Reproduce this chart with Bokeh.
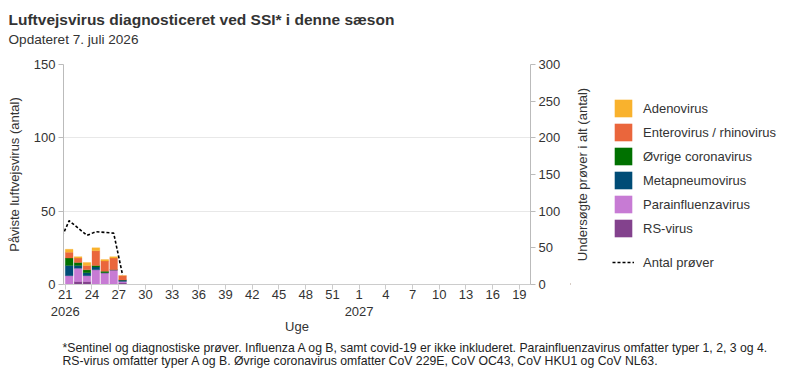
import math
from bokeh.plotting import figure
from bokeh.layouts import column, row
from bokeh.models import (ColumnDataSource, Range1d, LinearAxis, FixedTicker,
                          Legend, LegendItem, Label)
from bokeh.embed import file_html
from bokeh.resources import INLINE

# ---------------- data ----------------
title_text = "Luftvejsvirus diagnosticeret ved SSI* i denne sæson"
subtitle_text = "Opdateret 7. juli 2026"
left_axis_title = "Påviste luftvejsvirus (antal)"
right_axis_title = "Undersøgte prøver i alt (antal)"
x_axis_title = "Uge"
footnote_lines = [
    "*Sentinel og diagnostiske prøver. Influenza A og B, samt covid-19 er ikke inkluderet. Parainfluenzavirus omfatter typer 1, 2, 3 og 4.",
    "RS-virus omfatter typer A og B. Øvrige coronavirus omfatter CoV 229E, CoV OC43, CoV HKU1 og CoV NL63.",
]

weeks = [21, 22, 23, 24, 25, 26, 27]          # 2026
rs_virus = [0, 2, 2, 0, 0, 0, 1]
parainfluenza = [6, 9, 4, 10, 8, 10, 1]
metapneumo = [7, 2, 2, 2, 0, 0, 1]
corona = [5, 2, 2, 1, 1, 0, 0]
entero_rhino = [4, 3, 3, 10, 7, 8, 3]
adeno = [2, 1, 2, 2, 1, 1, 0]

series_names = ["RS-virus", "Parainfluenzavirus", "Metapneumovirus",
                "Øvrige coronavirus", "Enterovirus / rhinovirus", "Adenovirus"]
series_colors = ["#83428D", "#C77BD4", "#004C76", "#007100", "#EA663C", "#F9B22D"]

test_weeks = [20, 21, 22, 23, 24, 25, 26, 27]   # 2026
tests_total = [60, 87, 77, 67, 72, 71, 70, 13]
tests_label = "Antal prøver"

tick_weeks = [(2026, w) for w in range(21, 53, 3)] + [(2027, w) for w in range(1, 20, 3)]
year_labels = {(2026, 21): "2026", (2027, 1): "2027"}

FIRST_WEEK = 21
WEEKS_2026 = 53
BAR_W = 0.87


def idx(year, week):
    return week - FIRST_WEEK if year == 2026 else WEEKS_2026 - FIRST_WEEK + week


FONT = "Liberation Sans"
TXT = "#333333"
W = 800
TOP_H, MAIN_H, FOOT_H = 50, 290, 35
MAIN_W = 570
FRAME_TOP, FRAME_BOTTOM, FRAME_LEFT, FRAME_RIGHT = 64, 284, 63, 530


def text_fig(w, h):
    f = figure(width=w, height=h, output_backend="svg", toolbar_location=None,
               x_range=Range1d(0, w), y_range=Range1d(0, h),
               min_border=0, x_axis_location=None, y_axis_location=None,
               outline_line_color=None)
    f.xgrid.visible = False
    f.ygrid.visible = False
    return f


# ---------------- title ----------------
top = text_fig(W, TOP_H)
top.add_layout(Label(x=8, y=TOP_H - 19, text=title_text, text_font=FONT,
                     text_font_size="15.5px", text_font_style="bold",
                     text_color=TXT, text_baseline="alphabetic"))
top.add_layout(Label(x=8, y=TOP_H - 39, text=subtitle_text, text_font=FONT,
                     text_font_size="13.6px", text_color=TXT, text_baseline="alphabetic"))

# ---------------- main chart ----------------
p = figure(width=MAIN_W, height=MAIN_H, output_backend="svg", toolbar_location=None,
           x_range=Range1d(-0.2, 52.25), y_range=Range1d(0, 150),
           min_border_left=FRAME_LEFT, min_border_right=MAIN_W - FRAME_RIGHT,
           min_border_top=FRAME_TOP - TOP_H,
           min_border_bottom=TOP_H + MAIN_H - FRAME_BOTTOM, outline_line_color=None)
p.extra_y_ranges = {"tests": Range1d(0, 300)}

data = {"x": [idx(2026, w) + BAR_W / 2 for w in weeks],
        series_names[0]: rs_virus, series_names[1]: parainfluenza,
        series_names[2]: metapneumo, series_names[3]: corona,
        series_names[4]: entero_rhino, series_names[5]: adeno}
src = ColumnDataSource(data)
p.vbar_stack(series_names, x="x", width=BAR_W, source=src,
             fill_color=series_colors, line_color=series_colors, line_width=0.3)

line_src = ColumnDataSource({"x": [idx(2026, w) + BAR_W / 2 for w in test_weeks],
                             "y": tests_total})
p.line("x", "y", source=line_src, y_range_name="tests", line_color="black",
       line_width=1.6, line_dash="3 2")

ticks = [idx(y, w) for (y, w) in tick_weeks]
xa = p.xaxis[0]
xa.ticker = FixedTicker(ticks=ticks)
xa.major_label_overrides = {idx(y, w): str(w) for (y, w) in tick_weeks}
xa.minor_tick_line_color = None
xa.major_tick_in = 0
xa.major_tick_out = 5
xa.axis_line_color = "#cccccc"
xa.major_tick_line_color = "#cccccc"
xa.major_label_standoff = 0

xa2 = LinearAxis(ticker=FixedTicker(ticks=[idx(y, w) for (y, w) in year_labels]),
                 major_label_overrides={idx(y, w): t for (y, w), t in year_labels.items()},
                 axis_label=x_axis_title)
xa2.axis_line_color = None
xa2.major_tick_line_color = None
xa2.minor_tick_line_color = None
xa2.major_tick_in = 0
xa2.major_tick_out = 0
xa2.major_label_standoff = 5
xa2.axis_label_standoff = 0
p.add_layout(xa2, "below")

ya = p.yaxis[0]
ya.ticker = FixedTicker(ticks=[0, 50, 100, 150])
ya.axis_label = left_axis_title
ya.axis_label_standoff = 9

ra = LinearAxis(y_range_name="tests", ticker=FixedTicker(ticks=[0, 50, 100, 150, 200, 250, 300]))
p.add_layout(ra, "right")

for ax in (ya, ra):
    ax.minor_tick_line_color = None
    ax.major_tick_in = 0
    ax.major_tick_out = 5
    ax.axis_line_color = "#bbbbbb"
    ax.major_tick_line_color = "#bbbbbb"
    ax.major_label_standoff = 3

for ax in (xa, xa2, ya, ra):
    ax.major_label_text_font = FONT
    ax.major_label_text_font_size = "13px"
    ax.major_label_text_color = TXT
    ax.axis_label_text_font = FONT
    ax.axis_label_text_font_size = "13px"
    ax.axis_label_text_font_style = "normal"
    ax.axis_label_text_color = TXT

p.xgrid.grid_line_color = None
p.ygrid.grid_line_color = "#e8e8e8"
p.ygrid.ticker = FixedTicker(ticks=[50, 100, 150])

# ---------------- right axis title + legend panel (frame aligned with chart frame) ----------------
lg = text_fig(W - MAIN_W, MAIN_H)
lg.add_layout(Label(x=582 - MAIN_W, y=(FRAME_BOTTOM - FRAME_TOP) / 2, x_units="screen",
                    y_units="screen", angle=math.pi / 2, text=right_axis_title,
                    text_font=FONT, text_font_size="13px", text_color=TXT,
                    text_align="center", text_baseline="middle"))
swatches = [lg.vbar(x=[-1000], top=[1], width=1, fill_color=c, line_color=None)
            for c in series_colors]
dash = lg.line(x=[-1000, -999], y=[1, 1], line_color="black", line_width=1.3,
               line_dash="3 2")
items = [LegendItem(label=n, renderers=[r]) for n, r in zip(series_names, swatches)][::-1]
common = dict(glyph_width=22, glyph_height=22, label_height=22, spacing=2,
              label_standoff=9, padding=0, margin=0, border_line_color=None,
              background_fill_alpha=0, label_text_font=FONT,
              label_text_font_size="13px", label_text_color=TXT)
lg.add_layout(Legend(items=items, location=(612 - MAIN_W, FRAME_BOTTOM - 239), **common))
lg.add_layout(Legend(items=[LegendItem(label=tests_label, renderers=[dash])],
                     location=(612 - MAIN_W, FRAME_BOTTOM - 273), **common))

# ---------------- footnote ----------------
ft = text_fig(W, FOOT_H)
base0 = TOP_H + MAIN_H
for i, line in enumerate(footnote_lines):
    ft.add_layout(Label(x=62, y=FOOT_H - (347.5 + 13 * i - base0), text=line, text_font=FONT,
                        text_font_size="12.25px", text_color="#222222",
                        text_baseline="alphabetic"))

layout = column(top, row(p, lg), ft)
open("out.html", "w").write(file_html(layout, INLINE))
